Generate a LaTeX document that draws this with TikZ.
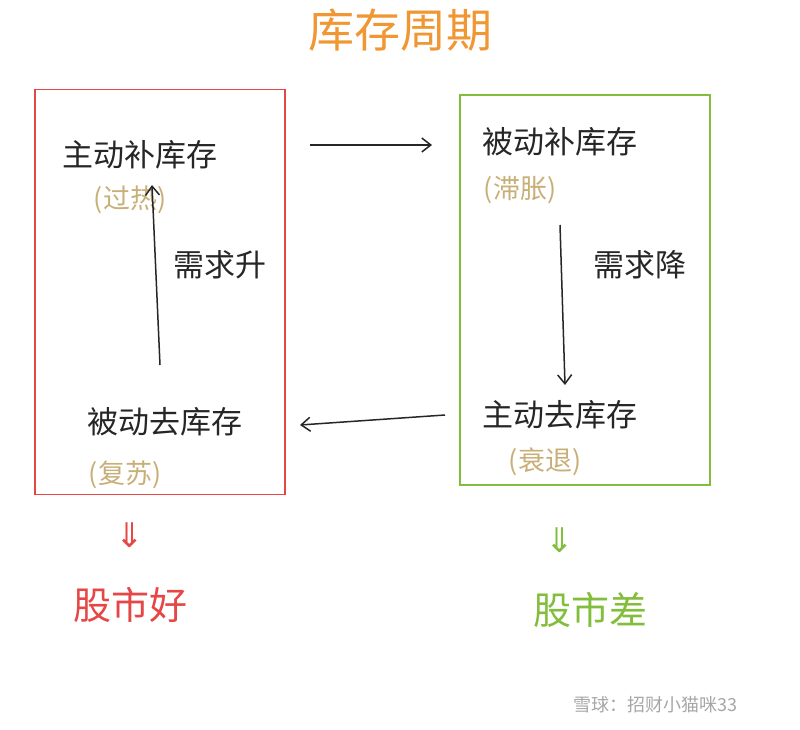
\documentclass[tikz,border=0pt]{standalone}
\usepackage{fontspec}
\setmainfont{Noto Sans CJK SC}
\newfontfamily\symf{DejaVu Sans}
\usetikzlibrary{arrows.meta}
\begin{document}
\begin{tikzpicture}[x=1pt,y=-1pt,
  lab/.style={font=\fontsize{31}{33}\selectfont, text=black!85},
  sub/.style={font=\fontsize{27}{29}\selectfont, text={rgb,255:red,200;green,175;blue,120}},
  arr/.style={-{Straight Barb[length=9pt,width=14pt]}, line width=1.5pt, black!85},
  redc/.style={draw={rgb,255:red,230;green,70;blue,70}, line width=1.5pt},
  grnc/.style={draw={rgb,255:red,130;green,190;blue,60}, line width=1.5pt}]
\useasboundingbox (0,0) rectangle (800,730);
\node[font=\fontsize{46}{48}\selectfont, text={rgb,255:red,240;green,150;blue,50}] (title) at (400,30) {库存周期};
\node[redc, minimum width=250, minimum height=405, inner sep=0] (lbox) at (160,292) {};
\node[grnc, minimum width=250, minimum height=390, inner sep=0] (rbox) at (585,290) {};
\node[lab] (a) at (140,155) {主动补库存};
\node[sub] (as) at (130,200) {(过热)};
\node[lab] (au) at (220,265) {需求升};
\node[lab] (b) at (165,422) {被动去库存};
\node[sub] (bs) at (125,475) {(复苏)};
\node[lab] (c) at (560,142) {被动补库存};
\node[sub] (cs) at (520,190) {(滞胀)};
\node[lab] (cd) at (640,265) {需求降};
\node[lab] (d) at (560,415) {主动去库存};
\node[sub] (ds) at (545,462) {(衰退)};
\coordinate (u1) at (160,365); \coordinate (u2) at (152,185);
\coordinate (d1) at (560,225); \coordinate (d2) at (565,385);
\coordinate (t1) at (310,145); \coordinate (t2) at (432,145);
\coordinate (b1) at (445,415); \coordinate (b2) at (300,425);
\draw[arr] (u1) -- (u2);
\draw[arr] (d1) -- (d2);
\draw[arr] (t1) -- (t2);
\draw[arr] (b1) -- (b2);
\node[font=\symf\fontsize{34}{36}\selectfont, text={rgb,255:red,230;green,70;blue,70}] (ld) at (130,535) {⇓};
\node[font=\symf\fontsize{34}{36}\selectfont, text={rgb,255:red,130;green,190;blue,60}] (rd) at (560,540) {⇓};
\node[font=\fontsize{38}{40}\selectfont, text={rgb,255:red,230;green,70;blue,70}] (lg) at (130,605) {股市好};
\node[font=\fontsize{38}{40}\selectfont, text={rgb,255:red,130;green,190;blue,60}] (rg) at (590,610) {股市差};
\node[font=\fontsize{18}{20}\selectfont, text=black!35] (wm) at (655,705) {雪球：招财小猫咪33};
\end{tikzpicture}
\end{document}
